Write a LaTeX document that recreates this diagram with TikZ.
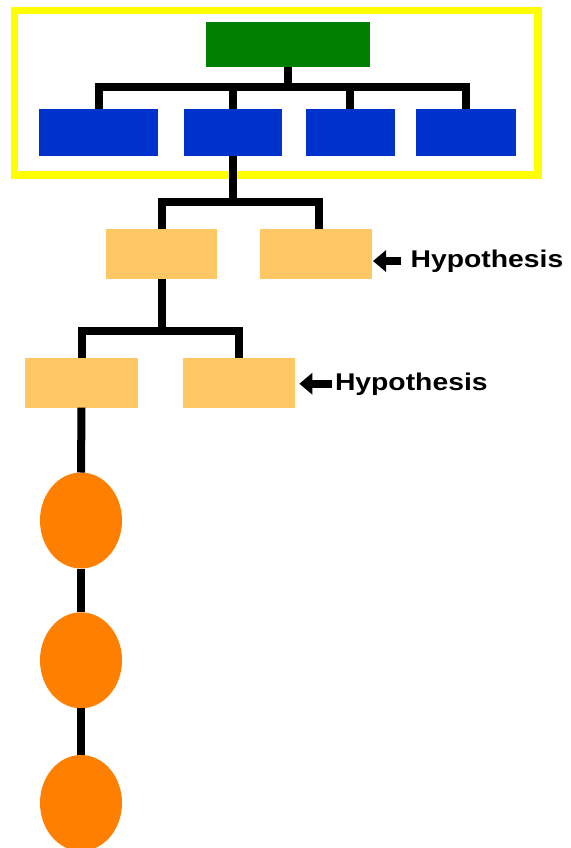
\documentclass[tikz,border=0pt]{standalone}
\usepackage{fontspec}
\setmainfont{Liberation Sans}
\usetikzlibrary{arrows.meta,shapes.geometric}
\definecolor{topgreen}{RGB}{0,128,0}
\definecolor{midblue}{RGB}{0,51,204}
\definecolor{tan}{RGB}{255,200,100}
\definecolor{orng}{RGB}{255,128,0}
\definecolor{yell}{RGB}{255,255,0}
\tikzset{
  box/.style={rectangle, inner sep=0pt, outer sep=0pt, draw=none},
  greenbox/.style={box, fill=topgreen},
  bluebox/.style={box, fill=midblue, minimum height=46.4pt},
  tanbox/.style={box, fill=tan, minimum height=50pt, minimum width=112pt},
  ovalnode/.style={ellipse, inner sep=0pt, outer sep=0pt, fill=orng, minimum width=82pt, minimum height=96pt},
  conn/.style={draw=black, line width=8pt, line join=miter},
  harrow/.style={draw=black, line width=8pt, -{Triangle[length=13pt,width=21pt]}},
  hyp/.style={inner sep=0pt, outer sep=0pt, font=\fontsize{24.2pt}{28pt}\selectfont\bfseries, anchor=base west}
}
\begin{document}
\begin{tikzpicture}[x=1pt,y=-1pt]
\useasboundingbox (0,0) rectangle (570,848);
% yellow frame
\draw[yell, line width=7.5pt] (14.5,10.5) rectangle (538,175);
% top level
\node[greenbox, minimum width=164.5pt, minimum height=45pt] (g) at (288.2,44.8) {};
\node[bluebox, minimum width=119.3pt] (b1) at (98.5,132.5) {};
\node[bluebox, minimum width=97.8pt] (b2) at (233.3,132.5) {};
\node[bluebox, minimum width=88.7pt] (b3) at (350.2,132.5) {};
\node[bluebox, minimum width=100pt] (b4) at (465.6,132.5) {};
\coordinate (bus1) at (0,87.5);
\draw[conn] (b1.north) -- (b1.north |- bus1) -| (b4.north);
\draw[conn] (b2.north) -- (b2.north |- bus1);
\draw[conn] (b3.north) -- (b3.north |- bus1);
\draw[conn] (g.south) -- (g.south |- bus1);
% level 2
\node[tanbox, minimum width=111.3pt] (l2a) at (161.7,254.2) {};
\node[tanbox] (l2b) at (315.7,254.2) {};
\coordinate (bus2) at (0,201.5);
\coordinate (l2bt) at ([xshift=3.3pt]l2b.north);
\draw[conn] (l2a.north) -- (l2a.north |- bus2) -| (l2bt);
\draw[conn] (b2.south) -- (b2.south |- bus2);
% level 3
\node[tanbox, minimum width=112.3pt] (l3a) at (81.5,382.7) {};
\node[tanbox, minimum width=112.3pt] (l3b) at (239.2,382.7) {};
\coordinate (bus3) at (0,331);
\draw[conn] (l3a.north) -- (l3a.north |- bus3) -| (l3b.north);
\draw[conn] (l2a.south) -- (l2a.south |- bus3);
% chain of ovals
\node[ovalnode] (e1) at (81,520.5) {};
\node[ovalnode] (e2) at (81,660.3) {};
\node[ovalnode] (e3) at (81,803) {};
\draw[conn] (l3a.south) -- (e1.north);
\draw[conn] (e1.south) -- (e2.north);
\draw[conn] (e2.south) -- (e3.north);
% hypothesis labels
\node[hyp] (h1) at (410.7,267.3) {\scalebox{1.17}[1]{Hypothesis}};
\node[hyp] (h2) at (335,390) {\scalebox{1.17}[1]{Hypothesis}};
\draw[harrow, shorten <=9.7pt, shorten >=1.3pt] (h1.west) -- (h1.west -| l2b.east);
\draw[harrow, shorten <=3.3pt, shorten >=4pt] (h2.west) -- (h2.west -| l3b.east);
\end{tikzpicture}
\end{document}
